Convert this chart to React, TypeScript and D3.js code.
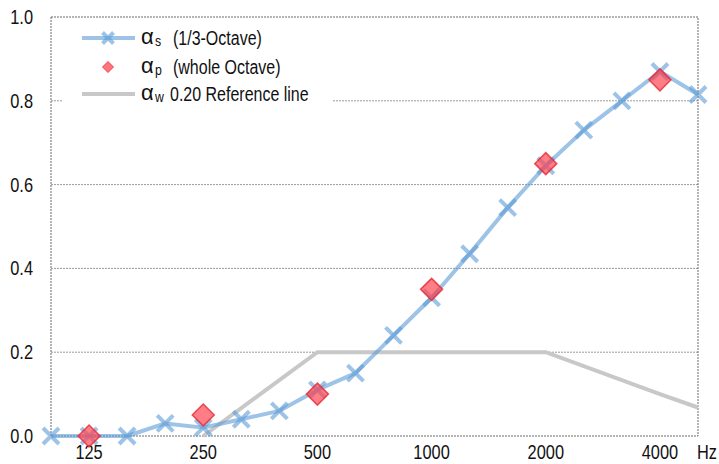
import { useEffect, useRef } from "react";
import * as d3 from "d3";

// 1/3-octave band centre frequencies (Hz)
const bands = ["100", "125", "160", "200", "250", "315", "400", "500", "630", "800", "1000", "1250", "1600", "2000", "2500", "3150", "4000", "5000"];
const alphaS = [0.0, 0.0, 0.0, 0.03, 0.02, 0.04, 0.06, 0.11, 0.15, 0.24, 0.33, 0.435, 0.545, 0.645, 0.73, 0.8, 0.87, 0.815];

// whole octave practical values
const octaves = ["125", "250", "500", "1000", "2000", "4000"];
const alphaP = [0.0, 0.05, 0.1, 0.35, 0.65, 0.85];

// shifted reference curve
const refBands = ["250", "500", "1000", "2000", "4000", "5000"];
const refValues = [0.0, 0.2, 0.2, 0.2, 0.1, 0.068];

const xLabels = ["125", "250", "500", "1000", "2000", "4000"];
const yTicks = [0, 0.2, 0.4, 0.6, 0.8, 1.0];

type G = d3.Selection<SVGGElement, unknown, null, undefined>;

const font = "'Liberation Sans', Arial, sans-serif";

// narrow-looking text: Liberation Sans squeezed horizontally
function narrowText(g: G, x: number, y: number, str: string, size: number, anchor = "start") {
    return g.append("text")
        .attr("transform", `translate(${x},${y}) scale(0.82,1)`)
        .attr("text-anchor", anchor)
        .attr("font-family", font)
        .attr("font-size", size)
        .attr("fill", "#111")
        .text(str);
}

export default function App() {
    const svgRef = useRef<SVGSVGElement>(null);

    useEffect(() => {
        if (!svgRef.current) return;
        document.body.style.margin = "0";
        const svg = d3.select(svgRef.current);
        svg.selectAll("*").remove();
        const root = svg.append("g") as unknown as G;

        const left = 51, right = 698, top = 17, bottom = 436;

        const x = d3.scalePoint<string>().domain(bands).range([left, right]);
        const y = d3.scaleLinear().domain([0, 1]).range([bottom, top]);

        // grid lines
        root.append("g")
            .selectAll("line")
            .data(yTicks.filter(t => t > 0 && t < 1))
            .join("line")
            .attr("x1", left).attr("x2", right)
            .attr("y1", d => y(d)).attr("y2", d => y(d))
            .attr("stroke", "#9a9a9a")
            .attr("stroke-width", 1)
            .attr("stroke-dasharray", "2,1");

        // frame
        root.append("rect")
            .attr("x", left).attr("y", top)
            .attr("width", right - left).attr("height", bottom - top)
            .attr("fill", "none")
            .attr("stroke", "#6a6a6a")
            .attr("stroke-width", 1)
            .attr("stroke-dasharray", "2,1");

        // tick labels
        const labels = root.append("g") as G;
        yTicks.forEach(t => narrowText(labels, 33, y(t) + 7, t.toFixed(1), 20, "end"));
        xLabels.forEach(l => narrowText(labels, x(l)!, 459, l, 20, "middle"));
        narrowText(labels, x("5000")! + 9, 459, "Hz", 20, "middle");

        // reference line
        const refLine = d3.line<number>()
            .x((_, i) => x(refBands[i])!)
            .y(d => y(d));
        root.append("path")
            .datum(refValues)
            .attr("d", refLine)
            .attr("fill", "none")
            .attr("stroke", "#c8c8c8")
            .attr("stroke-width", 4);

        // alpha_s line + cross markers
        const sLine = d3.line<number>()
            .x((_, i) => x(bands[i])!)
            .y(d => y(d));
        const sColor = "rgba(91,155,213,0.6)";
        root.append("path")
            .datum(alphaS)
            .attr("d", sLine)
            .attr("fill", "none")
            .attr("stroke", sColor)
            .attr("stroke-width", 4)
            .attr("stroke-linejoin", "round");

        const cross = (g: G, cx: number, cy: number, r: number, w: number) => {
            g.append("path")
                .attr("d", `M${cx - r},${cy - r}L${cx + r},${cy + r}M${cx - r},${cy + r}L${cx + r},${cy - r}`)
                .attr("stroke", sColor)
                .attr("stroke-width", w)
                .attr("fill", "none");
        };
        const crosses = root.append("g") as G;
        alphaS.forEach((v, i) => cross(crosses, x(bands[i])!, y(v), 8, 4));

        // alpha_p diamonds
        const diamond = (cx: number, cy: number, r: number) =>
            `M${cx},${cy - r}L${cx + r},${cy}L${cx},${cy + r}L${cx - r},${cy}Z`;
        root.append("g")
            .selectAll("path")
            .data(alphaP)
            .join("path")
            .attr("d", (d, i) => diamond(x(octaves[i])!, y(d), 11))
            .attr("fill", "rgba(255,70,80,0.7)")
            .attr("stroke", "rgba(230,40,55,0.8)")
            .attr("stroke-width", 1.5);

        // legend
        const lg = root.append("g") as G;
        lg.append("rect")
            .attr("x", 63).attr("y", 25)
            .attr("width", 270).attr("height", 84)
            .attr("fill", "#fff");

        const rows = [
            { y: 38, sub: "s", text: "(1/3-Octave)", tx: 173 },
            { y: 67, sub: "p", text: "(whole Octave)", tx: 173 },
            { y: 94, sub: "w", text: "0.20 Reference line", tx: 170 },
        ];
        lg.append("line")
            .attr("x1", 82).attr("x2", 135).attr("y1", rows[0].y).attr("y2", rows[0].y)
            .attr("stroke", sColor).attr("stroke-width", 4);
        cross(lg, 108, rows[0].y, 5.5, 4);
        lg.append("path")
            .attr("d", diamond(108, rows[1].y, 5.5))
            .attr("fill", "rgba(255,70,80,0.75)")
            .attr("stroke", "rgba(230,40,55,0.8)")
            .attr("stroke-width", 1);
        lg.append("line")
            .attr("x1", 82).attr("x2", 135).attr("y1", rows[2].y).attr("y2", rows[2].y)
            .attr("stroke", "#c8c8c8").attr("stroke-width", 4);

        rows.forEach(r => {
            const t = lg.append("text")
                .attr("x", 141)
                .attr("y", r.y + 6)
                .attr("font-family", font)
                .attr("font-size", 22)
                .attr("fill", "#111");
            t.append("tspan").text("α");
            const s = narrowText(lg, 155, r.y + 8, r.sub, 15);
            s.attr("fill", "#111");
            narrowText(lg, r.tx, r.y + 7, r.text, 19.5);
        });
    }, []);

    return (
        <div style={{ position: "absolute", left: 0, top: 0 }}>
            <svg ref={svgRef} width={719} height={464} style={{ display: "block", background: "#fff" }}></svg>
        </div>
    );
}
